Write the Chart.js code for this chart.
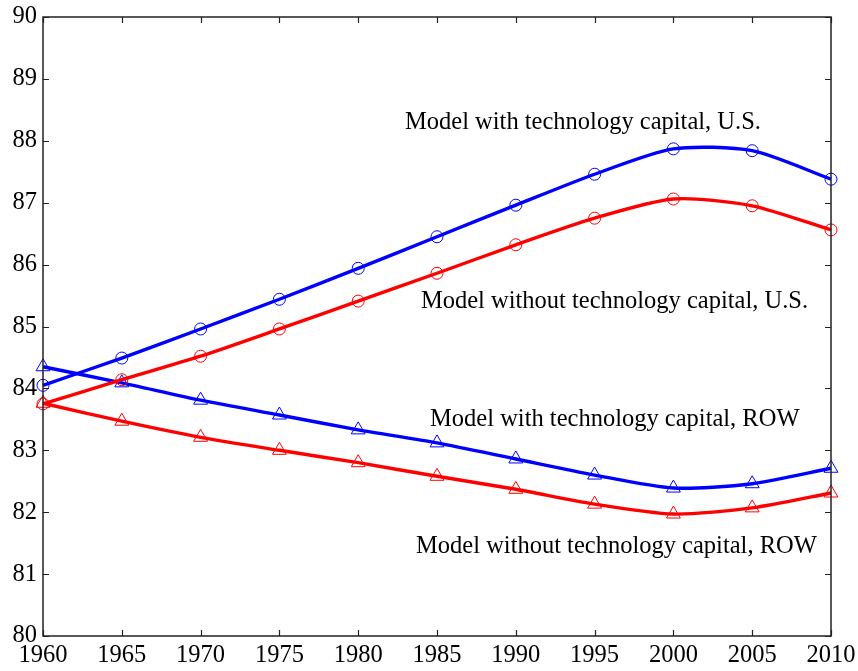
<!DOCTYPE html>
<html>
<head>
<meta charset="utf-8">
<script src="https://cdn.jsdelivr.net/npm/chart.js@4/dist/chart.umd.min.js"></script>
<style>
  html, body { margin: 0; padding: 0; background: #fff; }
  #wrap { width: 858px; height: 671px; position: relative; }
</style>
</head>
<body>
<div id="wrap"><canvas id="c" width="858" height="671"></canvas></div>
<script>
// ---- Data ----
const years = [1960, 1965, 1970, 1975, 1980, 1985, 1990, 1995, 2000, 2005, 2010];
const withTechUS     = [84.05, 84.49, 84.96, 85.44, 85.94, 86.45, 86.96, 87.46, 87.87, 87.84, 87.38];
const withoutTechUS  = [83.75, 84.14, 84.52, 84.96, 85.41, 85.86, 86.32, 86.75, 87.06, 86.95, 86.56];
const withTechROW    = [84.35, 84.09, 83.81, 83.57, 83.33, 83.12, 82.86, 82.60, 82.39, 82.46, 82.71];
const withoutTechROW = [83.76, 83.47, 83.21, 83.00, 82.80, 82.58, 82.37, 82.13, 81.97, 82.07, 82.31];
const yTicks = [80, 81, 82, 83, 84, 85, 86, 87, 88, 89, 90];
const xTicks = [1960, 1965, 1970, 1975, 1980, 1985, 1990, 1995, 2000, 2005, 2010];

// Text annotations (anchored in data coordinates, left aligned)
const annotationTexts = [
  "Model with technology capital, U.S.",
  "Model without technology capital, U.S.",
  "Model with technology capital, ROW",
  "Model without technology capital, ROW"
];
const annotationX = [1982.97, 1983.98, 1984.56, 1983.67];
const annotationY = [88.29, 85.41, 83.49, 81.45];

const FONT = '"Liberation Serif", "Times New Roman", serif';
const toXY = arr => years.map((yr, i) => ({ x: yr, y: arr[i] }));

function ds(label, data, color, style) {
  return {
    label,
    data: toXY(data),
    borderColor: color,
    backgroundColor: 'rgba(0,0,0,0)',
    borderWidth: 3.4,
    pointStyle: style,
    pointRadius: style === 'circle' ? 6 : 8,
    pointBorderWidth: 1,
    pointBorderColor: color,
    pointBackgroundColor: 'rgba(0,0,0,0)',
    tension: 0.25,
    clip: false,
    fill: false
  };
}

const framePlugin = {
  id: 'frame',
  afterDraw(chart) {
    const { ctx, chartArea: a, scales: { x, y } } = chart;
    ctx.save();
    ctx.strokeStyle = '#222';
    ctx.lineWidth = 1.5;
    ctx.strokeRect(a.left, a.top, a.right - a.left, a.bottom - a.top);
    const L = 6;
    ctx.beginPath();
    xTicks.forEach(v => {
      const px = Math.round(x.getPixelForValue(v)) + 0.5;
      ctx.moveTo(px, a.bottom); ctx.lineTo(px, a.bottom - L);
      ctx.moveTo(px, a.top); ctx.lineTo(px, a.top + L);
    });
    yTicks.forEach(v => {
      const py = Math.round(y.getPixelForValue(v)) + 0.5;
      ctx.moveTo(a.left, py); ctx.lineTo(a.left + L, py);
      ctx.moveTo(a.right, py); ctx.lineTo(a.right - L, py);
    });
    ctx.lineWidth = 1.2;
    ctx.stroke();
    ctx.fillStyle = '#000';
    ctx.font = '24.5px ' + FONT;
    ctx.textAlign = 'left';
    ctx.textBaseline = 'middle';
    annotationTexts.forEach((t, i) => {
      ctx.fillText(t, x.getPixelForValue(annotationX[i]), y.getPixelForValue(annotationY[i]));
    });
    ctx.restore();
  }
};

new Chart(document.getElementById('c'), {
  type: 'line',
  data: {
    datasets: [
      ds('Model with technology capital, U.S.', withTechUS, '#0000ff', 'circle'),
      ds('Model without technology capital, U.S.', withoutTechUS, '#ff0000', 'circle'),
      ds('Model with technology capital, ROW', withTechROW, '#0000ff', 'triangle'),
      ds('Model without technology capital, ROW', withoutTechROW, '#ff0000', 'triangle')
    ]
  },
  options: {
    responsive: false,
    animation: false,
    devicePixelRatio: 1,
    layout: { padding: { left: 0, top: 17, right: 27, bottom: 0 } },
    plugins: { legend: { display: false }, tooltip: { enabled: false } },
    scales: {
      x: {
        type: 'linear',
        min: 1960, max: 2010,
        afterBuildTicks: s => { s.ticks = xTicks.map(v => ({ value: v })); },
        afterFit: s => { s.height = 35; s.paddingLeft = 0; s.paddingRight = 0; },
        grid: { display: false, drawTicks: false },
        border: { display: false },
        ticks: {
          color: '#000', font: { family: FONT, size: 24.5 }, padding: 5,
          autoSkip: false, maxRotation: 0, minRotation: 0,
          callback: v => String(v)
        }
      },
      y: {
        type: 'linear',
        min: 80, max: 90,
        afterBuildTicks: s => { s.ticks = yTicks.map(v => ({ value: v })); },
        afterFit: s => { s.width = 43; s.paddingTop = 0; s.paddingBottom = 0; },
        grid: { display: false, drawTicks: false },
        border: { display: false },
        ticks: {
          color: '#000', font: { family: FONT, size: 24.5 }, padding: 6,
          autoSkip: false, callback: v => String(v)
        }
      }
    }
  },
  plugins: [framePlugin]
});
</script>
</body>
</html>
